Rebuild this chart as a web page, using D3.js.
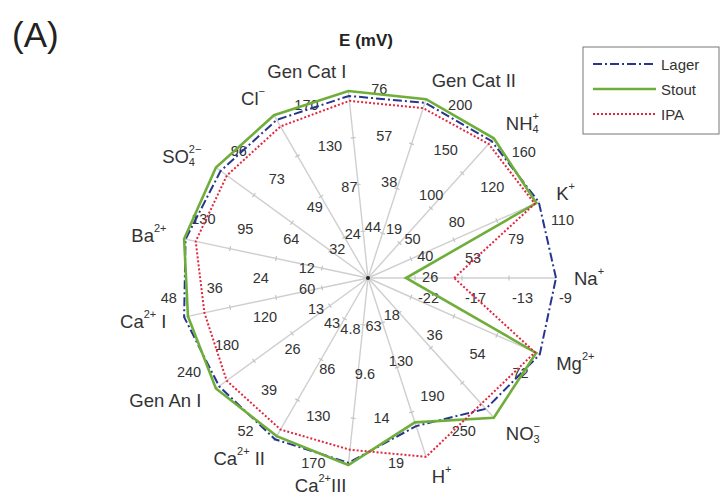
<!DOCTYPE html>
<html>
<head>
<meta charset="utf-8">
<script src="https://cdn.jsdelivr.net/npm/d3@7"></script>
<style>
  body { margin: 0; background: #fff; }
  text { font-family: "Liberation Sans", Arial, Helvetica, sans-serif; }
</style>
</head>
<body>
<svg id="chart" width="723" height="498"></svg>
<script>
// Axis labels as text segments: [text, kind] where kind is "", "sub", "sup" or "subsup"
const axisLabels = [
  [["Na", ""], ["+", "sup"]],
  [["K", ""], ["+", "sup"]],
  [["NH", ""], ["4", "sub"], ["+", "subsup"]],
  [["Gen Cat II", ""]],
  [["Gen Cat I", ""]],
  [["Cl", ""], ["\u2212", "sup"]],
  [["SO", ""], ["4", "sub"], ["2\u2212", "subsup"]],
  [["Ba", ""], ["2+", "sup"]],
  [["Ca", ""], ["2+", "sup"], [" I", ""]],
  [["Gen An I", ""]],
  [["Ca", ""], ["2+", "sup"], [" II", ""]],
  [["Ca", ""], ["2+", "sup"], ["III", ""]],
  [["H", ""], ["+", "sup"]],
  [["NO", ""], ["3", "sub"], ["\u2212", "subsup"]],
  [["Mg", ""], ["2+", "sup"]]
];

// Value range of each axis (centre -> outer ring), E in mV
const axisMin = [-25.8, 0, 0, 0, 0, 0, 0, 0, 0, 0, 0, 0, 0, 0, 0];
const axisMax = [-9, 105.6, 160, 200, 76, 174, 97, 127, 48, 240, 52, 172, 19.2, 252, 72];

// Ring tick labels for each axis (rings 1..4)
const tickLabels = [
  ["-22", "-17", "-13", "-9"],
  ["26", "53", "79", "110"],
  ["40", "80", "120", "160"],
  ["50", "100", "150", "200"],
  ["19", "38", "57", "76"],
  ["44", "87", "130", "170"],
  ["24", "49", "73", "96"],
  ["32", "64", "95", "130"],
  ["12", "24", "36", "48"],
  ["60", "120", "180", "240"],
  ["13", "26", "39", "52"],
  ["43", "86", "130", "170"],
  ["4.8", "9.6", "14", "19"],
  ["63", "130", "190", "250"],
  ["18", "36", "54", "72"]
];

// Sensor responses per beer, one value per axis
const lager = [-9.0, 105, 157, 196, 74, 169, 94, 126, 48, 235, 51.5, 170, 15.9, 236, 72];
const stout = [-22.4, 103.5, 160, 200, 76, 174, 97, 127, 47, 240, 50.5, 172, 15.5, 252, 70.5];
const ipa   = [-18.1, 102.5, 153.5, 190, 72, 162, 90, 119, 42.7, 223, 48.4, 158, 19.2, 227, 70];

const seriesNames = ["Lager", "Stout", "IPA"];
const seriesData = [lager, stout, ipa];
const seriesColors = ["#27358f", "#6fae3a", "#e3263f"];
const seriesDash = ["9,3,2,3", null, "2,2"];
const seriesWidth = [2, 2.6, 2];

const svg = d3.select("#chart");
const cx = 368, cy = 278, R = 188;
const n = axisLabels.length;

// Axis i points at i*24 degrees, counter-clockwise from east
const angle = d3.scaleLinear().domain([0, n]).range([0, 2 * Math.PI]);
const radial = axisMin.map((m, i) => d3.scaleLinear().domain([m, axisMax[i]]).range([0, R]));
const ringFrac = d3.scaleLinear().domain([0, 4]).range([0, R]);
const pt = (i, r) => [cx + r * Math.cos(angle(i)), cy - r * Math.sin(angle(i))];

// Panel letter and title
svg.append("text").attr("x", 12).attr("y", 47).attr("font-size", 35).attr("fill", "#222").text("(A)");
svg.append("text").attr("x", 366).attr("y", 46).attr("text-anchor", "middle")
  .attr("font-size", 17).attr("font-weight", "bold").attr("fill", "#222").text("E (mV)");

// Spokes
const idx = d3.range(n);
svg.append("g").selectAll("line").data(idx).join("line")
  .attr("x1", cx).attr("y1", cy)
  .attr("x2", i => pt(i, R)[0]).attr("y2", i => pt(i, R)[1])
  .attr("stroke", "#cfcfcf").attr("stroke-width", 1.4);

// Small ring marks on the spokes
const marks = [];
idx.forEach(i => [1, 2, 3].forEach(k => marks.push({ i, k })));
svg.append("g").selectAll("line").data(marks).join("line")
  .each(function (d) {
    const a = angle(d.i), r = ringFrac(d.k);
    const [x, y] = pt(d.i, r);
    const px = Math.sin(a) * 2.5, py = Math.cos(a) * 2.5;
    d3.select(this).attr("x1", x - px).attr("y1", y - py).attr("x2", x + px).attr("y2", y + py);
  })
  .attr("stroke", "#c4c4c4").attr("stroke-width", 1.2);

// Tick labels, offset clockwise of each spoke
const ticks = [];
idx.forEach(i => tickLabels[i].forEach((t, k) => ticks.push({ i, k: k + 1, t })));
svg.append("g").selectAll("text").data(ticks).join("text")
  .each(function (d) {
    const a = angle(d.i);
    const [x, y] = pt(d.i, ringFrac(d.k));
    const right = a < Math.PI - 1e-6;
    const ox = Math.sin(a) * 20 + (right ? 3 : -3);
    const oy = Math.cos(a) * 20;
    d3.select(this).attr("x", x + ox).attr("y", y + oy)
      .attr("text-anchor", right ? "start" : "end");
  })
  .attr("dominant-baseline", "central")
  .attr("font-size", 14.5).attr("fill", "#333")
  .text(d => d.t);

// Data polygons
const line = d3.line().curve(d3.curveLinearClosed);
seriesData.forEach((vals, s) => {
  const pts = vals.map((v, i) => pt(i, radial[i](v)));
  svg.append("path").attr("d", line(pts))
    .attr("fill", "none").attr("stroke", seriesColors[s])
    .attr("stroke-width", seriesWidth[s])
    .attr("stroke-dasharray", seriesDash[s])
    .attr("stroke-linejoin", "miter");
});

// Centre dot
svg.append("circle").attr("cx", cx).attr("cy", cy).attr("r", 2).attr("fill", "#222");

// Axis labels
const labelFont = 18.5;
idx.forEach(i => {
  const a = angle(i);
  const rl = 206;
  const x = cx + rl * Math.cos(a);
  const y = cy - rl * Math.sin(a) - 2 * Math.sin(a);
  const t = svg.append("text").attr("x", x).attr("y", y)
    .attr("text-anchor", Math.cos(a) >= 0 ? "start" : "end")
    .attr("dominant-baseline", "central")
    .attr("font-size", labelFont).attr("fill", "#333");
  let shift = 0; // current baseline offset
  axisLabels[i].forEach(([str, kind]) => {
    const sp = t.append("tspan").text(str);
    if (kind === "") {
      sp.attr("dy", -shift); shift = 0;
    } else if (kind === "sup") {
      sp.attr("font-size", 11).attr("dy", -7 - shift); shift = -7;
    } else if (kind === "sub") {
      sp.attr("font-size", 11).attr("dy", 6 - shift); shift = 6;
    } else if (kind === "subsup") {
      sp.attr("font-size", 11).attr("dx", -6.2).attr("dy", -13); shift = -7;
    }
  });
});

// Legend
const lg = svg.append("g");
lg.append("rect").attr("x", 583).attr("y", 47).attr("width", 136).attr("height", 87)
  .attr("fill", "#fff").attr("stroke", "#777").attr("stroke-width", 1);
seriesNames.forEach((name, s) => {
  const y = 64 + s * 25;
  lg.append("line").attr("x1", 593).attr("x2", 656).attr("y1", y).attr("y2", y)
    .attr("stroke", seriesColors[s]).attr("stroke-width", seriesWidth[s])
    .attr("stroke-dasharray", seriesDash[s]);
  lg.append("text").attr("x", 661).attr("y", y).attr("dominant-baseline", "central")
    .attr("font-size", 15).attr("fill", "#333").text(name);
});
</script>
</body>
</html>
